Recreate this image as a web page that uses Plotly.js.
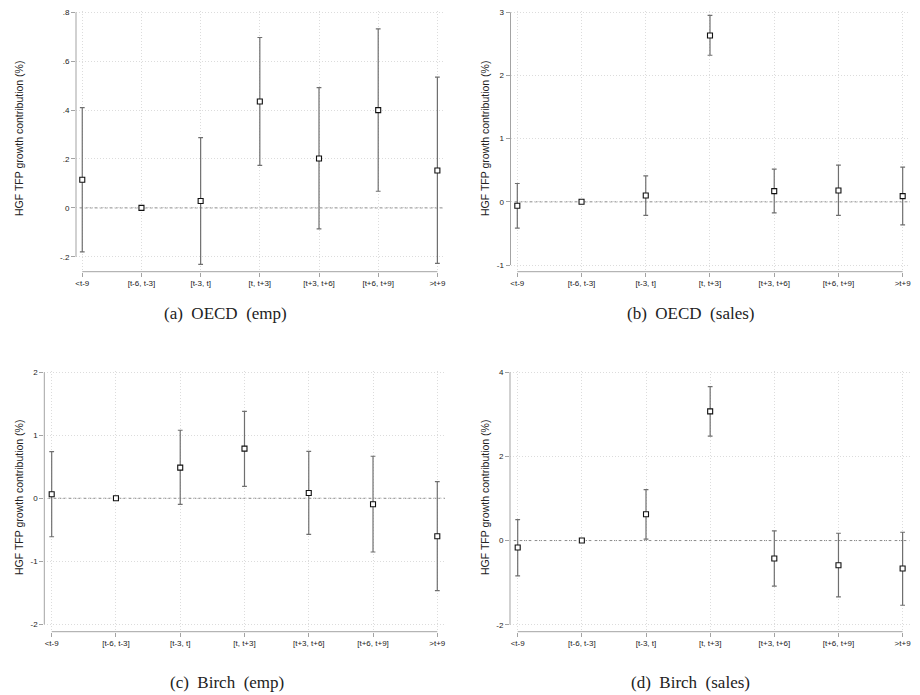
<!DOCTYPE html>
<html>
<head>
<meta charset="utf-8">
<script src="https://cdn.plot.ly/plotly-3.0.1.min.js"></script>
<style>
  html, body { margin: 0; padding: 0; background: #ffffff; }
  #chart { width: 920px; height: 695px; }
</style>
</head>
<body>
<div id="chart"></div>
<script>
// ---------------- DATA ----------------
const categories = ['<t-9', '[t-6, t-3]', '[t-3, t]', '[t, t+3]', '[t+3, t+6]', '[t+6, t+9]', '>t+9'];

// (a) OECD (emp)
const oecdEmpEst = [0.115, 0.0, 0.028, 0.435, 0.202, 0.400, 0.153];
const oecdEmpLo  = [-0.180, null, -0.231, 0.174, -0.086, 0.068, -0.227];
const oecdEmpHi  = [0.410, null, 0.287, 0.697, 0.492, 0.732, 0.535];

// (b) OECD (sales)
const oecdSalesEst = [-0.063, 0.0, 0.100, 2.633, 0.170, 0.180, 0.090];
const oecdSalesLo  = [-0.416, null, -0.215, 2.320, -0.174, -0.215, -0.364];
const oecdSalesHi  = [0.290, null, 0.410, 2.950, 0.517, 0.580, 0.549];

// (c) Birch (emp)
const birchEmpEst = [0.063, 0.0, 0.487, 0.788, 0.085, -0.095, -0.603];
const birchEmpLo  = [-0.610, null, -0.095, 0.190, -0.571, -0.852, -1.466];
const birchEmpHi  = [0.740, null, 1.080, 1.380, 0.746, 0.667, 0.265];

// (d) Birch (sales)
const birchSalesEst = [-0.166, 0.0, 0.626, 3.070, -0.428, -0.586, -0.665];
const birchSalesLo  = [-0.840, null, 0.032, 2.480, -1.085, -1.339, -1.537];
const birchSalesHi  = [0.499, null, 1.210, 3.660, 0.230, 0.174, 0.198];

// y tick values / labels
const ticksA = [-0.2, 0, 0.2, 0.4, 0.6, 0.8];
const tickLabelsA = ['-.2', '0', '.2', '.4', '.6', '.8'];
const ticksB = [-1, 0, 1, 2, 3];
const tickLabelsB = ['-1', '0', '1', '2', '3'];
const ticksC = [-2, -1, 0, 1, 2];
const tickLabelsC = ['-2', '-1', '0', '1', '2'];
const ticksD = [-2, 0, 2, 4];
const tickLabelsD = ['-2', '0', '2', '4'];

const captions = ['(a)\u00a0\u00a0OECD\u00a0\u00a0(emp)', '(b)\u00a0\u00a0OECD\u00a0\u00a0(sales)',
                  '(c)\u00a0\u00a0Birch\u00a0\u00a0(emp)', '(d)\u00a0\u00a0Birch\u00a0\u00a0(sales)'];
const yTitle = 'HGF TFP growth contribution (%)';

// ---------------- LAYOUT HELPERS ----------------
const W = 920, H = 695;
const px = v => v / W;
const py = v => 1 - v / H;

const SANS = 'Liberation Sans, Arial, Helvetica, sans-serif';
const SERIF = 'Liberation Serif, Times New Roman, serif';
const AXIS_COL = '#a3a3a3';
const GRID_COL = '#dcdcdc';
const ERR_COL = '#6f6f6f';

const panels = [
  { est: oecdEmpEst, lo: oecdEmpLo, hi: oecdEmpHi, tv: ticksA, tt: tickLabelsA,
    xd: [76, 443.3], yd: [271.7, 11], xr: [-0.106, 6.1], yr: [-0.261, 0.8053],
    cap: [225, 313], tit: [19, 139] },
  { est: oecdSalesEst, lo: oecdSalesLo, hi: oecdSalesHi, tv: ticksB, tt: tickLabelsB,
    xd: [510.5, 910], yd: [271.7, 11], xr: [-0.106, 6.114], yr: [-1.106, 3.02],
    cap: [690, 313], tit: [485, 139] },
  { est: birchEmpEst, lo: birchEmpLo, hi: birchEmpHi, tv: ticksC, tt: tickLabelsC,
    xd: [44.3, 445], yd: [631.7, 371], xr: [-0.115, 6.12], yr: [-2.117, 2.02],
    cap: [227, 682], tit: [19, 498] },
  { est: birchSalesEst, lo: birchSalesLo, hi: birchSalesHi, tv: ticksD, tt: tickLabelsD,
    xd: [510, 910], yd: [631.7, 371], xr: [-0.12, 6.115], yr: [-2.166, 4.03],
    cap: [690, 682], tit: [485, 498] }
];

const data = [];
const layout = {
  width: W, height: H,
  margin: { l: 0, r: 0, t: 0, b: 0 },
  paper_bgcolor: '#ffffff', plot_bgcolor: '#ffffff',
  showlegend: false,
  font: { family: SANS, size: 8, color: '#222222' },
  shapes: [], annotations: []
};

panels.forEach((p, i) => {
  const n = i + 1;
  const xa = n === 1 ? 'x' : 'x' + n;
  const ya = n === 1 ? 'y' : 'y' + n;
  const xKey = n === 1 ? 'xaxis' : 'xaxis' + n;
  const yKey = n === 1 ? 'yaxis' : 'yaxis' + n;

  const plus = p.est.map((v, k) => p.hi[k] === null ? NaN : p.hi[k] - v);
  const minus = p.est.map((v, k) => p.lo[k] === null ? NaN : v - p.lo[k]);

  data.push({
    type: 'scatter', mode: 'markers',
    x: categories, y: p.est,
    xaxis: xa, yaxis: ya,
    marker: { symbol: 'square', size: 5, color: '#ffffff', line: { color: '#111111', width: 1.1 } },
    error_y: { type: 'data', symmetric: false, array: plus, arrayminus: minus,
               color: ERR_COL, thickness: 1.2, width: 2.4 },
    cliponaxis: false, hoverinfo: 'skip'
  });

  layout[xKey] = {
    domain: [px(p.xd[0]), px(p.xd[1])],
    anchor: ya, type: 'category', range: p.xr,
    showgrid: true, gridcolor: GRID_COL, griddash: '1px,2px', gridwidth: 1,
    zeroline: false, showline: false,
    ticks: 'outside', ticklen: 4, tickcolor: AXIS_COL, tickwidth: 1,
    tickfont: { family: SANS, size: 8, color: '#222222' },
    fixedrange: true
  };
  layout[yKey] = {
    domain: [py(p.yd[0]), py(p.yd[1])],
    anchor: xa, range: p.yr,
    tickvals: p.tv, ticktext: p.tt,
    showgrid: true, gridcolor: GRID_COL, griddash: '1px,2px', gridwidth: 1,
    zeroline: false, showline: false,
    ticks: 'outside', ticklen: 4, tickcolor: AXIS_COL, tickwidth: 1,
    tickfont: { family: SANS, size: 8, color: '#222222' },
    fixedrange: true
  };

  // y axis line (spans tick range only)
  layout.shapes.push({ type: 'line', xref: xa + ' domain', yref: ya,
    x0: 0, x1: 0, y0: p.tv[0], y1: p.tv[p.tv.length - 1],
    line: { color: AXIS_COL, width: 1 } });
  // x axis line (spans category range only)
  layout.shapes.push({ type: 'line', xref: xa, yref: ya + ' domain',
    x0: 0, x1: categories.length - 1, y0: 0, y1: 0,
    line: { color: AXIS_COL, width: 1 } });
  // dashed zero reference line
  layout.shapes.push({ type: 'line', xref: xa + ' domain', yref: ya,
    x0: 0.01, x1: 1, y0: 0, y1: 0, layer: 'below',
    line: { color: '#8a8a8a', width: 1, dash: '3px,2px' } });

  // y title
  layout.annotations.push({ xref: 'paper', yref: 'paper',
    x: px(p.tit[0]), y: py(p.tit[1]), text: yTitle, showarrow: false,
    textangle: -90, xanchor: 'center', yanchor: 'middle',
    font: { family: SANS, size: 10.5, color: '#222222' } });
  // caption
  layout.annotations.push({ xref: 'paper', yref: 'paper',
    x: px(p.cap[0]), y: py(p.cap[1]), text: captions[i], showarrow: false,
    xanchor: 'center', yanchor: 'middle',
    font: { family: SERIF, size: 17, color: '#222222' } });
});

Plotly.newPlot('chart', data, layout, { staticPlot: true, displayModeBar: false });
</script>
</body>
</html>
